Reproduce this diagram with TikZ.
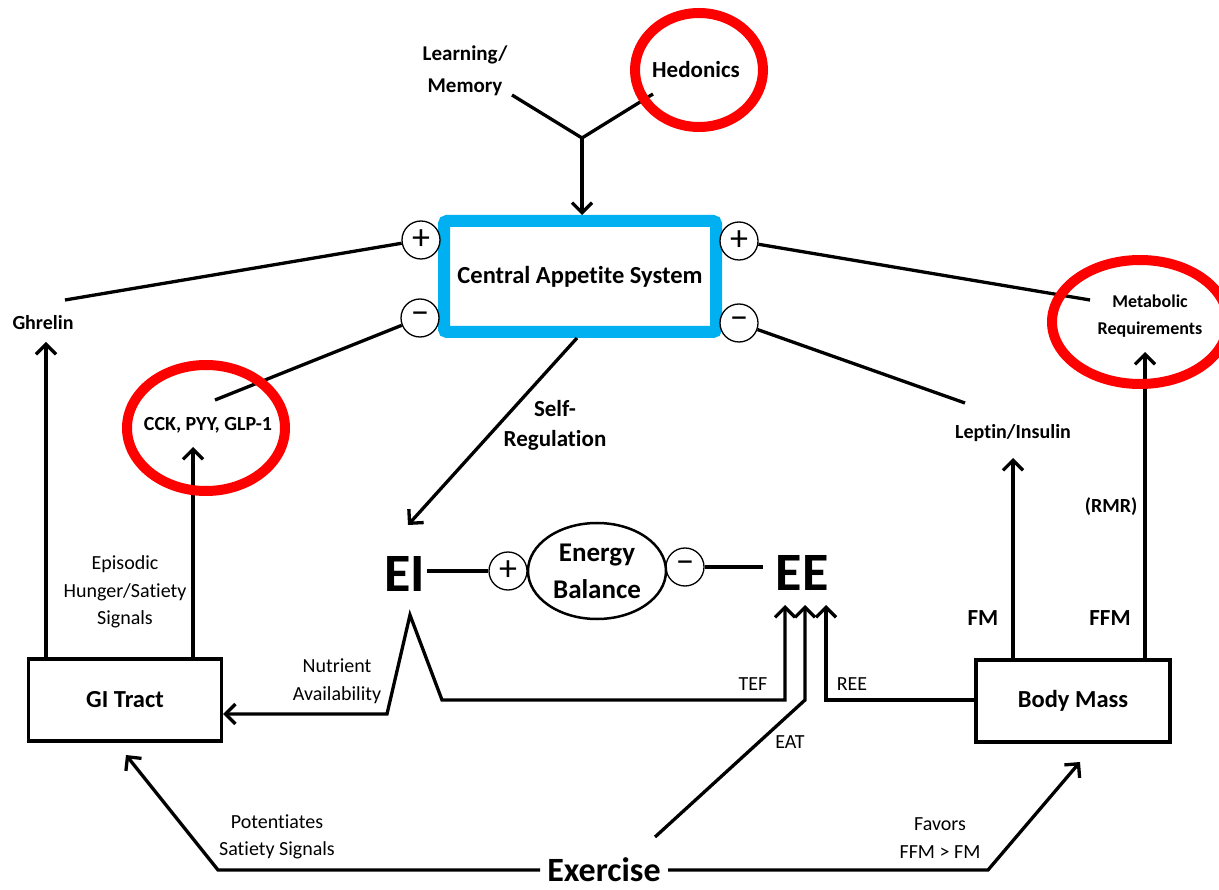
\documentclass[tikz,border=0pt]{standalone}
\usepackage{fontspec}
\setmainfont[Ligatures=NoCommon]{Carlito}
\usetikzlibrary{arrows.meta,shapes.geometric,calc}
\definecolor{cyanbox}{HTML}{00B0F0}
\definecolor{redring}{HTML}{FF0000}
\begin{document}
\begin{tikzpicture}[x=1pt,y=-1pt,line width=3.3pt,
 tip/.style={-{Straight Barb[length=10pt,width=20pt]}},
 twotip/.style={{Straight Barb[length=10pt,width=20pt]}-{Straight Barb[length=10pt,width=20pt]}},
 lbl/.style={font=\fontsize{20}{27.5}\selectfont,align=center,inner sep=0pt},
 blbl/.style={font=\bfseries\fontsize{20}{27}\selectfont,align=center,inner sep=0pt},
 big/.style={font=\bfseries\fontsize{21}{32}\selectfont,align=center,inner sep=0pt},
 sgn/.style={circle,draw,line width=1.3pt,minimum size=38pt,inner sep=0pt,font=\fontsize{36}{36}\selectfont,fill=white},
 boxx/.style={draw,line width=3.3pt,minimum height=82pt,inner sep=0pt,font=\bfseries\fontsize{24.5}{28}\selectfont,fill=white},
 ring/.style={draw=redring,line width=10pt}]
\useasboundingbox (0,0) rectangle (1219,890);
\clip (0,0) rectangle (1219,890);

% ---- nodes ----
\node[draw=cyanbox,line width=12pt,rounded corners=3pt,minimum width=272pt,minimum height=111pt,fill=white,inner sep=0pt,font=\bfseries\fontsize{24.5}{28}\selectfont] (cas) at (580,276.5) {Central Appetite System};
\node[big] (learn) at (465,71) {Learning/\\Memory};
\node[font=\bfseries\fontsize{23}{28}\selectfont,inner sep=0pt] (hed) at (696,70) {Hedonics};
\node[blbl] (ghr) at (43,323) {Ghrelin};
\node[blbl] (cck) at (208,425) {CCK, PYY, GLP-1};
\node[font=\bfseries\fontsize{18}{27}\selectfont,align=center,inner sep=0pt] (met) at (1150,316) {Metabolic\\Requirements};
\node[blbl] (lep) at (1013,433) {Leptin/Insulin};
\node[sgn] (p1) at (421,240) {+};
\node[sgn] (m1) at (420,318) {−};
\node[sgn] (p2) at (739,241) {+};
\node[sgn] (m2) at (739,323) {−};

\node[boxx,minimum width=193pt] (gi) at (125,700) {GI Tract};
\node[boxx,minimum width=194pt] (bm) at (1073,701) {Body Mass};

\node[font=\bfseries\fontsize{54}{54}\selectfont,inner sep=0pt] (ei) at (405,574) {EI};
\node[font=\bfseries\fontsize{54}{54}\selectfont,inner sep=0pt] (ee) at (802,573) {EE};
\node[sgn] (pe) at (508,571) {+};
\node[sgn] (me) at (685,567) {−};
\node[ellipse,draw,line width=2.5pt,minimum width=138pt,minimum height=96pt,inner sep=0pt,align=center,font=\bfseries\fontsize{27}{37}\selectfont] (eb) at (597,571) {Energy\\Balance};
\node[font=\bfseries\fontsize{34}{34}\selectfont,inner sep=0pt] (ex) at (604,870) {Exercise};

% labels
\node[font=\bfseries\fontsize{23}{30}\selectfont,align=center,inner sep=0pt] (selfreg) at (555,425) {Self-\\Regulation};
\node[lbl] (epi) at (125,592) {Episodic\\Hunger/Satiety\\Signals};
\node[lbl] (nut) at (337,681) {Nutrient\\Availability};
\node[lbl] (tef) at (753,684) {TEF};
\node[lbl] (ree) at (852,684) {REE};
\node[lbl] (eat) at (790,742) {EAT};
\node[lbl] (pot) at (277,837) {Potentiates\\Satiety Signals};
\node[lbl] (fav) at (940,838) {Favors\\FFM > FM};
\node[font=\bfseries\fontsize{23}{27}\selectfont,inner sep=0pt] (fm) at (983,618) {FM};
\node[font=\bfseries\fontsize{23}{27}\selectfont,inner sep=0pt] (ffm) at (1110,618) {FFM};
\node[blbl] (rmr) at (1111,507) {(RMR)};

% ---- coordinates ----
\coordinate (lmend) at (512,95);
\coordinate (hedend) at (653,94);
\coordinate (join) at (582,138);
\coordinate (ghl) at (65,300);
\coordinate (cckl) at (215,400);
\coordinate (metl) at (1090,300);
\coordinate (lepl) at (965,403);
\coordinate (srtip) at (408,525);
\coordinate (eel) at (763,567);
\coordinate (peak) at (410,615);
\coordinate (nutlow) at (387,714);
\coordinate (tefr) at (442,700);
\coordinate (tefc) at (785,700);
\coordinate (teftip) at (785,605);
\coordinate (eatst) at (655,837);
\coordinate (eatc) at (805,700);
\coordinate (eattip) at (805,605);
\coordinate (reec) at (826,700);
\coordinate (reetip) at (826,605);
\coordinate (exl) at (540,870);
\coordinate (exlc) at (218,870);
\coordinate (gitip) at (126,755);
\coordinate (exr) at (668,870);
\coordinate (exrc) at (988,870);
\coordinate (bmtip) at (1080,762);

% ---- connectors ----
\draw (lmend) -- (join) -- (hedend);
\draw[tip] (join) -- (join |- cas.north);
\draw (p1) -- (ghl);
\draw (m1) -- (cckl);
\draw (p2) -- (metl);
\draw (m2) -- (lepl);
\draw[tip] ($(cas.south)+(-3,0)$) -- (srtip);
\draw[tip] (gi.north -| 46,0) -- (46,342);
\draw[tip] (gi.north -| 193,0) -- (193,447);
\draw[tip] (bm.north -| 1013,0) -- (1013,458);
\draw[tip] (bm.north -| 1145,0) -- (1145,352);
\draw (ei.east |- pe) -- (pe);
\draw (me) -- (eel);
\draw[twotip] (gi.east |- nutlow) -- (nutlow) -- (peak) -- (tefr) -- (tefc) -- (teftip);
\draw[tip] (eatst) -- (eatc) -- (eattip);
\draw[tip] (bm.west |- reec) -- (reec) -- (reetip);
\draw[tip] (exl) -- (exlc) -- (gitip);
\draw[tip] (exr) -- (exrc) -- (bmtip);

% ---- red rings ----
\draw[ring] (699,70) ellipse [x radius=64, y radius=57];
\draw[ring] (206,428) ellipse [x radius=79, y radius=63];
\draw[ring] (1140,322) ellipse [x radius=88, y radius=62];
\end{tikzpicture}
\end{document}
